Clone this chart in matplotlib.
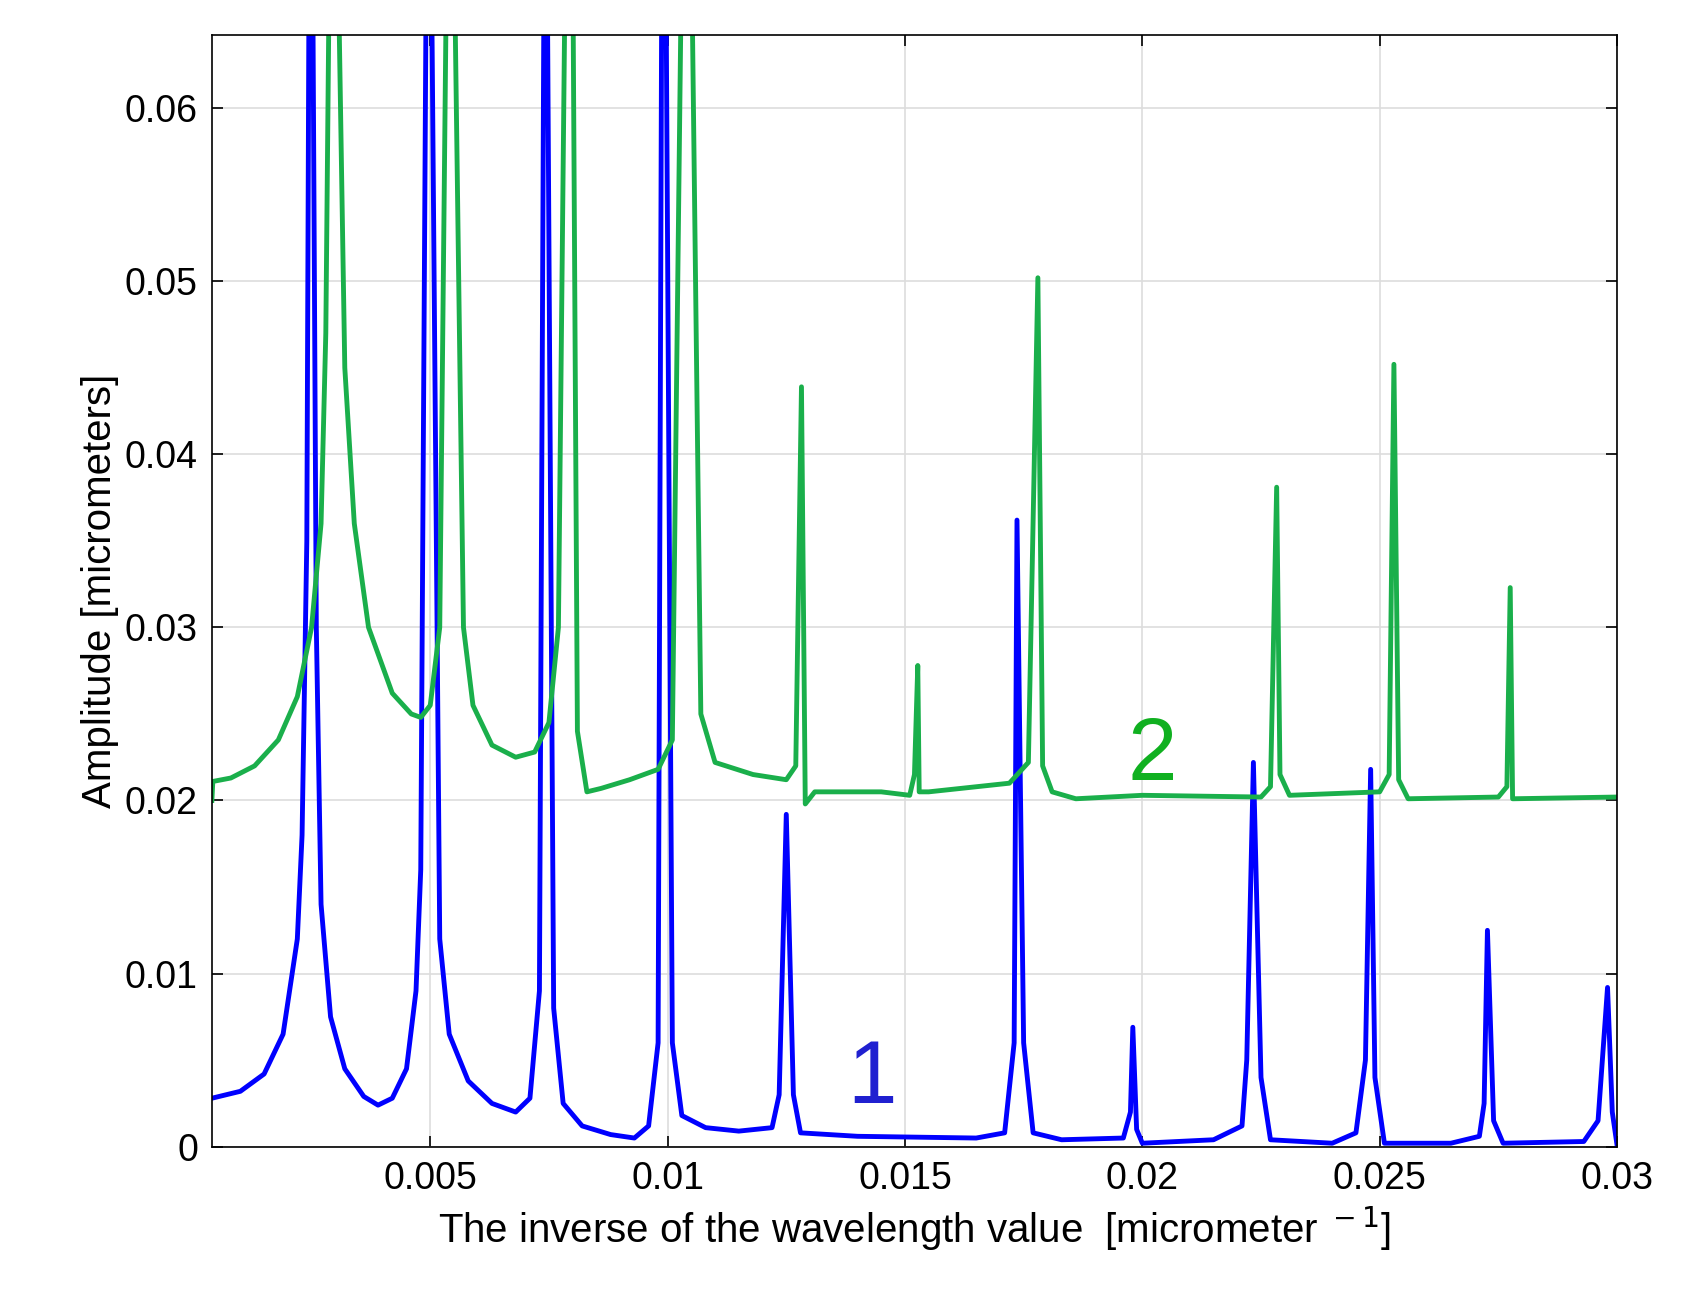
import matplotlib.pyplot as plt

plt.rcParams['font.family'] = ['Liberation Sans', 'DejaVu Sans']

# curve 1 (blue)
x1 = [0.0004, 0.0010, 0.0015, 0.0019, 0.0022, 0.0023, 0.0024, 0.00245, 0.00252, 0.0026, 0.0027, 0.0029,
      0.0032, 0.0036, 0.0039, 0.0042, 0.0045, 0.0047, 0.0048, 0.00492, 0.00502, 0.0052, 0.0054, 0.0058,
      0.0063, 0.0068, 0.0071, 0.0073, 0.0074, 0.00746, 0.0076, 0.0078, 0.0082, 0.0088, 0.0093, 0.0096,
      0.0098, 0.00988, 0.00996, 0.0101, 0.0103, 0.0108, 0.0115, 0.0122, 0.01235, 0.0125, 0.01265, 0.0128,
      0.0140, 0.0165, 0.0171, 0.0173, 0.01736, 0.0175, 0.0177, 0.0183, 0.0196, 0.01975, 0.0198, 0.01988,
      0.0200, 0.0215, 0.0221, 0.0222, 0.02234, 0.0225, 0.0227, 0.0240, 0.0245, 0.0247, 0.02481, 0.0249,
      0.0251, 0.0265, 0.0271, 0.0272, 0.02727, 0.0274, 0.0276, 0.0293, 0.0296, 0.0298, 0.0299, 0.0300]
y1 = [0.0028, 0.0032, 0.0042, 0.0065, 0.012, 0.018, 0.035, 0.07, 0.07, 0.030, 0.014, 0.0075,
      0.0045, 0.0029, 0.0024, 0.0028, 0.0045, 0.009, 0.016, 0.07, 0.07, 0.012, 0.0065, 0.0038,
      0.0025, 0.0020, 0.0028, 0.009, 0.07, 0.07, 0.008, 0.0025, 0.0012, 0.0007, 0.0005, 0.0012,
      0.006, 0.07, 0.07, 0.006, 0.0018, 0.0011, 0.0009, 0.0011, 0.003, 0.0192, 0.003, 0.0008,
      0.0006, 0.0005, 0.0008, 0.006, 0.0362, 0.006, 0.0008, 0.0004, 0.0005, 0.002, 0.0069, 0.001,
      0.0002, 0.0004, 0.0012, 0.005, 0.0222, 0.004, 0.0004, 0.0002, 0.0008, 0.005, 0.0218, 0.004,
      0.0002, 0.0002, 0.0006, 0.0025, 0.0125, 0.0015, 0.0002, 0.0003, 0.0015, 0.0092, 0.002, 0.0001]

# curve 2 (green)
x2 = [0.0004, 0.00042, 0.0008, 0.0013, 0.0018, 0.0022, 0.0025, 0.0027, 0.0028, 0.00288, 0.00305, 0.0032,
      0.0034, 0.0037, 0.0042, 0.0046, 0.0048, 0.0050, 0.0052, 0.00535, 0.0055, 0.0057, 0.0059, 0.0063,
      0.0068, 0.0072, 0.0075, 0.0077, 0.00785, 0.0080, 0.0081, 0.0083, 0.0086, 0.0092, 0.0098, 0.0101,
      0.0103, 0.0105, 0.0107, 0.0110, 0.0118, 0.0125, 0.0127, 0.01282, 0.0129, 0.0131, 0.0145, 0.0151,
      0.0152, 0.01527, 0.0153, 0.0155, 0.0172, 0.0176, 0.0178, 0.0179, 0.0181, 0.0186, 0.0200, 0.0225,
      0.0227, 0.02283, 0.0229, 0.0231, 0.0250, 0.0252, 0.0253, 0.0254, 0.0256, 0.0275, 0.02768, 0.02775,
      0.0278, 0.0300]
y2 = [0.0200, 0.0211, 0.0213, 0.0220, 0.0235, 0.026, 0.030, 0.036, 0.047, 0.07, 0.07, 0.045,
      0.036, 0.030, 0.0262, 0.0250, 0.0248, 0.0255, 0.030, 0.07, 0.07, 0.030, 0.0255, 0.0232,
      0.0225, 0.0228, 0.0245, 0.030, 0.07, 0.07, 0.024, 0.0205, 0.0207, 0.0212, 0.0218, 0.0235,
      0.07, 0.07, 0.025, 0.0222, 0.0215, 0.0212, 0.0220, 0.0439, 0.0198, 0.0205, 0.0205, 0.0203,
      0.0215, 0.0278, 0.0205, 0.0205, 0.0210, 0.0222, 0.0502, 0.022, 0.0205, 0.0201, 0.0203, 0.0202,
      0.0208, 0.0381, 0.0215, 0.0203, 0.0205, 0.0215, 0.0452, 0.0212, 0.0201, 0.0202, 0.0208, 0.0323,
      0.0201, 0.0202]

x_ticks = [0.005, 0.01, 0.015, 0.02, 0.025, 0.03]
y_ticks = [0, 0.01, 0.02, 0.03, 0.04, 0.05, 0.06]

fig = plt.figure(figsize=(16.95, 13.12), dpi=100)
ax = fig.add_axes([0.125, 0.126, 0.829, 0.847])
ax.plot(x1, y1, color='#0000ff', lw=3.5)
ax.plot(x2, y2, color='#1aaf4b', lw=3.5)
ax.text(0.0143, 0.0025, '1', color='#2020d0', fontsize=64, ha='center')
ax.text(0.0202, 0.0212, '2', color='#10b020', fontsize=64, ha='center')

ax.set_xlim(0.0004, 0.03)
ax.set_ylim(0, 0.0642)
ax.set_xticks(x_ticks)
ax.set_xticklabels(['%g' % v for v in x_ticks])
ax.set_yticks(y_ticks)
ax.set_yticklabels(['%g' % v for v in y_ticks])
ax.grid(True, color='#dddddd', lw=1.2)
ax.tick_params(labelsize=27, direction='in', top=True, right=True, length=8, width=1.2, pad=10)
for s in ax.spines.values():
    s.set_linewidth(1.2)
ax.set_xlabel('The inverse of the wavelength value  [micrometer$^{\\ -1}$]', fontsize=29, labelpad=6)
ax.set_ylabel('Amplitude [micrometers]', fontsize=29)
fig.savefig('out.png')
